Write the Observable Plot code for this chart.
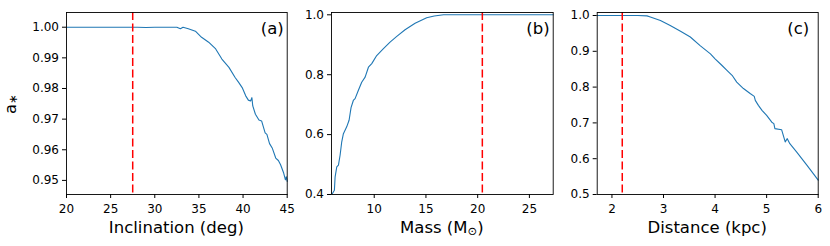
<!DOCTYPE html>
<html><head><meta charset="utf-8">
<script src="https://cdn.jsdelivr.net/npm/d3@7"></script>
<script src="https://cdn.jsdelivr.net/npm/@observablehq/plot@0.6"></script>
<style>
body{margin:0;background:#fff;}
#wrap{position:relative;width:830px;height:246px;overflow:hidden;background:#fff;}
#wrap svg{position:absolute;top:0;}
</style></head><body><div id="wrap"></div>
<script>
// Panel (a): spin vs inclination
const inclination = [20, 25, 28, 29, 30, 31, 32, 32.5, 32.9, 33.2, 33.8, 34.6, 35.3, 36.1, 36.9, 37.6, 38.4, 39.1, 39.5, 39.9, 40.3, 40.6, 40.85, 41.0, 41.1, 41.4, 41.8, 42.1, 42.5, 42.7, 43.0, 43.3, 43.7, 44.0, 44.25, 44.6, 44.8, 44.9, 45];
const spinVsInc = [1, 1, 1, 0.9999, 1, 1, 1, 1, 0.9995, 1.0, 0.9995, 0.9987, 0.9967, 0.9951, 0.9929, 0.9896, 0.9869, 0.9836, 0.982, 0.9803, 0.9776, 0.9762, 0.9759, 0.977, 0.9743, 0.9716, 0.9697, 0.9694, 0.9655, 0.965, 0.962, 0.9606, 0.9573, 0.9565, 0.9551, 0.9524, 0.9502, 0.9512, 0.9497];
const incMarker = 27.5;
const incTicks = [20, 25, 30, 35, 40, 45];
const incSpinTicks = [0.95, 0.96, 0.97, 0.98, 0.99, 1.00];

// Panel (b): spin vs mass
const mass = [5.96, 6.15, 6.22, 6.38, 6.54, 6.7, 6.86, 7.02, 7.34, 7.57, 7.76, 7.98, 8.15, 8.47, 8.79, 9.12, 9.44, 9.76, 10.24, 10.89, 11.53, 12.18, 12.98, 13.95, 15.07, 15.8, 16.7, 20, 27.3];
const spinVsMass = [0.4033, 0.414, 0.459, 0.492, 0.498, 0.531, 0.576, 0.603, 0.626, 0.648, 0.69, 0.714, 0.72, 0.748, 0.775, 0.792, 0.825, 0.837, 0.864, 0.887, 0.909, 0.928, 0.95, 0.972, 0.99, 0.996, 1.0, 1.0, 1.0];
const massMarker = 20.45;
const massTicks = [10, 15, 20, 25];
const massSpinTicks = [0.4, 0.6, 0.8, 1.0];

// Panel (c): spin vs distance
const distance = [1.714, 2.5, 2.68, 2.745, 2.94, 3.13, 3.33, 3.52, 3.71, 3.91, 4.0, 4.13, 4.23, 4.33, 4.42, 4.55, 4.68, 4.76, 4.78, 4.84, 4.91, 5.0, 5.1, 5.14, 5.16, 5.29, 5.36, 5.4, 5.45, 5.58, 5.78, 6.0];
const spinVsDist = [1.0, 1.0, 0.999, 0.996, 0.986, 0.972, 0.956, 0.94, 0.916, 0.893, 0.879, 0.861, 0.847, 0.833, 0.814, 0.796, 0.782, 0.774, 0.763, 0.749, 0.735, 0.721, 0.702, 0.698, 0.684, 0.681, 0.647, 0.656, 0.642, 0.619, 0.582, 0.54];
const distMarker = 2.2;
const distTicks = [2, 3, 4, 5, 6];
const distSpinTicks = [0.5, 0.6, 0.7, 0.8, 0.9, 1.0];

const FONT = "DejaVu Sans";
const wrap = document.getElementById("wrap");

function panel(o) {
  const data = o.x.map((v, i) => ({x: v, y: o.y[i]}));
  const svg = Plot.plot({
    width: o.width, height: 246,
    marginLeft: o.mL, marginRight: o.mR, marginTop: 12, marginBottom: 52,
    style: {fontFamily: FONT, fontSize: "12px", color: "#000", background: "transparent", overflow: "visible"},
    x: {domain: o.xDomain},
    y: {domain: o.yDomain},
    marks: [
      Plot.line(data, {x: "x", y: "y", stroke: "#1f77b4", strokeWidth: 1.1}),
      Plot.ruleX([o.marker], {stroke: "red", strokeWidth: 1.5, strokeDasharray: "8,3.5"}),
      Plot.frame({stroke: "#000", strokeWidth: 0.9}),
      Plot.axisX({ticks: o.xTicks, tickSize: 4, tickPadding: 5.5, tickFormat: d3.format("d"), label: null, fontSize: 12}),
      Plot.axisY({ticks: o.yTicks, tickSize: 4, tickPadding: 3.5, tickFormat: o.yFormat, label: null, fontSize: 12}),
      Plot.text([o.tag], {frameAnchor: "top-right", text: d => d, dx: o.tagDx, dy: 16.5, textAnchor: "end", lineAnchor: "middle", fontSize: 16.5})
    ]
  });
  svg.style.left = o.left + "px";
  wrap.appendChild(svg);
  const cx = o.mL + (o.width - o.mL - o.mR) / 2;
  const t = d3.select(svg).append("text")
    .attr("x", cx).attr("y", 233)
    .attr("text-anchor", "middle")
    .attr("font-family", FONT).attr("font-size", 16.5).attr("fill", "#000");
  o.label(t);
  return svg;
}

const svgA = panel({
  x: inclination, y: spinVsInc, xDomain: [20, 45], yDomain: [0.9454, 1.0048],
  xTicks: incTicks, yTicks: incSpinTicks, yFormat: d3.format(".2f"),
  marker: incMarker, tag: "(a)", tagDx: -3.5,
  left: 0, width: 290, mL: 66, mR: 3.3,
  label: t => t.text("Inclination (deg)")
});
// y label a_*
const yl = d3.select(svgA).append("text")
  .attr("transform", "translate(16,104) rotate(-90)")
  .attr("text-anchor", "middle")
  .attr("font-family", FONT).attr("font-size", 16.5).attr("fill", "#000");
yl.append("tspan").text("a");
yl.append("tspan").attr("font-size", 11.5).attr("dy", 1).text("\u2217");

panel({
  x: mass, y: spinVsMass, xDomain: [5.87, 27.3], yDomain: [0.4, 1.0077],
  xTicks: massTicks, yTicks: massSpinTicks, yFormat: d3.format(".1f"),
  marker: massMarker, tag: "(b)", tagDx: -3.5,
  left: 290, width: 265, mL: 41, mR: 2.3,
  label: t => {
    t.append("tspan").text("Mass (M");
    t.append("tspan").attr("font-size", 11.5).attr("dy", 1.5).text("\u2299");
    t.append("tspan").attr("dy", -1.5).text(")");
  }
});

panel({
  x: distance, y: spinVsDist, xDomain: [1.714, 6], yDomain: [0.5, 1.0084],
  xTicks: distTicks, yTicks: distSpinTicks, yFormat: d3.format(".1f"),
  marker: distMarker, tag: "(c)", tagDx: -9,
  left: 555, width: 275, mL: 41.7, mR: 12.3,
  label: t => t.text("Distance (kpc)")
});
</script>
</body></html>
